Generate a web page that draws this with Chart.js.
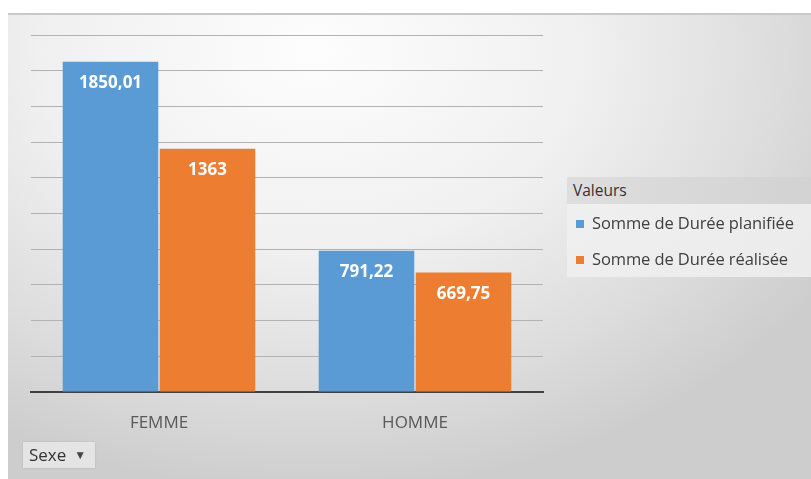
<!DOCTYPE html>
<html lang="fr">
<head>
<meta charset="utf-8">
<title>Durée planifiée / réalisée par sexe</title>
<script src="https://cdn.jsdelivr.net/npm/chart.js@4/dist/chart.umd.min.js"></script>
<style>
  html, body { margin: 0; padding: 0; background: #fff; }
  #wrap { position: relative; width: 811px; height: 479px; overflow: hidden; font-family: "Open Sans", sans-serif; }
  #bg {
    position: absolute; left: 8px; top: 13px; right: 0; bottom: 0;
    border-top: 2px solid #c8c8c8;
    background: radial-gradient(ellipse 75% 95% at 38% 8%, #fdfdfd 0%, #f0f0f0 45%, #dedede 75%, #cdcdcd 100%);
  }
  #chart { position: absolute; left: 0; top: 0; }
  #legend { position: absolute; left: 567px; top: 177px; width: 244px; height: 100px; background: rgba(240,240,240,0.85); }
  #legend .head { height: 27px; line-height: 27px; padding-left: 6px; color: #333; font-size: 15.5px;
    background: linear-gradient(to right, #dedede, #d2d2d2); }
  #legend .item { position: absolute; left: 9px; font-size: 16.5px; color: #404040; white-space: nowrap; line-height: 20px; letter-spacing: -0.1px; }
  #legend .item span { display: inline-block; width: 8px; height: 8px; margin-right: 8px; vertical-align: 1px; }
  #sexe { position: absolute; left: 23px; top: 442px; width: 72px; height: 26px; background: #e4e4e4;
    box-shadow: 0 0 2px rgba(0,0,0,0.12); color: #333; font-size: 17px; line-height: 26px; padding-left: 6px; box-sizing: border-box; }
  #sexe b { font-size: 12px; font-weight: normal; color: #444; margin-left: 8px; vertical-align: 2px; }
</style>
</head>
<body>
<div id="wrap">
  <div id="bg"></div>
  <canvas id="chart" width="811" height="479"></canvas>
  <div id="legend"><div class="head">Valeurs</div></div>
  <div id="sexe">Sexe<b>&#9660;</b></div>
</div>
<script>
// data
const categories = ['FEMME', 'HOMME'];
const seriesNames = ['Somme de Durée planifiée', 'Somme de Durée réalisée'];
const planned = [1850.01, 791.22];
const done = [1363, 669.75];
const colors = ['#5b9bd5', '#ed7d31'];

// legend built from the series
const legendEl = document.getElementById('legend');
seriesNames.forEach(function(name, i) {
    const item = document.createElement('div');
    item.className = 'item';
    item.style.top = (36 + i * 36) + 'px';
    item.innerHTML = '<span style="background:' + colors[i] + '"></span>' + name;
    legendEl.appendChild(item);
});

function fmt(v) {
    return String(v).replace('.', ',');
}

// white value labels near the top of each bar
const barLabels = {
    id: 'barLabels',
    afterDatasetsDraw: function(chart) {
        const ctx = chart.ctx;
        ctx.save();
        ctx.fillStyle = '#ffffff';
        ctx.font = 'bold 17px "Open Sans", sans-serif';
        ctx.textAlign = 'center';
        ctx.textBaseline = 'middle';
        chart.data.datasets.forEach(function(ds, i) {
            chart.getDatasetMeta(i).data.forEach(function(bar, j) {
                ctx.fillText(fmt(ds.data[j]), bar.x, bar.y + 21.5);
            });
        });
        ctx.restore();
    }
};

new Chart(document.getElementById('chart'), {
    type: 'bar',
    data: {
        labels: categories,
        datasets: [
            { label: seriesNames[0], data: planned, backgroundColor: colors[0] },
            { label: seriesNames[1], data: done, backgroundColor: colors[1] }
        ]
    },
    options: {
        responsive: false,
        animation: false,
        layout: { padding: { left: 31, right: 268, top: 35, bottom: 0 } },
        datasets: { bar: { categoryPercentage: 0.758, barPercentage: 0.985 } },
        scales: {
            x: {
                grid: { display: false },
                border: { display: true, color: '#404040', width: 2 },
                ticks: { color: '#595959', font: { family: '"Open Sans", sans-serif', size: 17 }, padding: 13 },
                afterFit: function(scale) { scale.height = 87; }
            },
            y: {
                min: 0,
                max: 2000,
                ticks: { display: false, stepSize: 200 },
                grid: { color: '#b2b2b2', lineWidth: 1, drawTicks: false },
                border: { display: false }
            }
        },
        plugins: {
            legend: { display: false },
            tooltip: { enabled: false }
        }
    },
    plugins: [barLabels]
});
</script>
</body>
</html>
